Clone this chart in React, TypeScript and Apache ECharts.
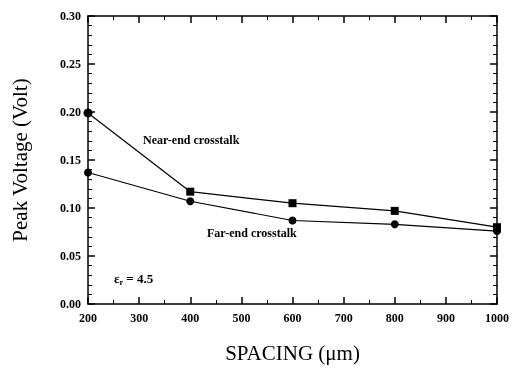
import React, { useEffect, useRef } from "react";
import * as echarts from "echarts";

const spacing = [200, 400, 600, 800, 1000];
const nearEnd = [0.199, 0.117, 0.105, 0.097, 0.080];
const farEnd = [0.137, 0.107, 0.087, 0.083, 0.076];
const xTicks = [200, 300, 400, 500, 600, 700, 800, 900, 1000];
const yTicks = [0.0, 0.05, 0.1, 0.15, 0.2, 0.25, 0.3];

const FONT = "Liberation Serif";

export default function App() {
  const ref = useRef<HTMLDivElement>(null);
  useEffect(() => {
    if (!ref.current) return;
    const chart = echarts.init(ref.current, null, { renderer: "svg" });
    const xBase = () => ({
      type: "value",
      min: xTicks[0],
      max: xTicks[xTicks.length - 1],
      interval: 100,
      splitLine: { show: false },
      axisLine: { show: true, onZero: false, lineStyle: { color: "#000", width: 1.5 } },
      axisTick: { show: true, inside: true, length: 7, lineStyle: { color: "#000", width: 1.5 } },
      minorTick: { show: true, splitNumber: 2, length: 4, lineStyle: { color: "#000", width: 1 } },
    });
    const yBase = () => ({
      type: "value",
      min: yTicks[0],
      max: yTicks[yTicks.length - 1],
      interval: 0.05,
      splitLine: { show: false },
      axisLine: { show: true, onZero: false, lineStyle: { color: "#000", width: 1.5 } },
      axisTick: { show: true, inside: true, length: 7, lineStyle: { color: "#000", width: 1.5 } },
      minorTick: { show: true, splitNumber: 5, length: 4, lineStyle: { color: "#000", width: 1 } },
    });
    chart.setOption({
      animation: false,
      grid: { left: 88, right: 15, top: 16, bottom: 66 },
      xAxis: [
        {
          ...xBase(),
          position: "bottom",
          name: "SPACING (\u03bcm)",
          nameLocation: "middle",
          nameGap: 38,
          nameTextStyle: { fontFamily: FONT, fontSize: 21, color: "#000" },
          axisLabel: {
            fontFamily: FONT,
            fontSize: 12,
            fontWeight: "bold",
            color: "#000",
            margin: 8,
            formatter: (v: number) => String(v),
          },
        },
        { ...xBase(), position: "top", axisLabel: { show: false } },
      ],
      yAxis: [
        {
          ...yBase(),
          position: "left",
          name: "Peak Voltage (Volt)",
          nameLocation: "middle",
          nameGap: 58,
          nameTextStyle: { fontFamily: FONT, fontSize: 21, color: "#000" },
          axisLabel: {
            fontFamily: FONT,
            fontSize: 12,
            fontWeight: "bold",
            color: "#000",
            margin: 7,
            formatter: (v: number) => v.toFixed(2),
          },
        },
        { ...yBase(), position: "right", axisLabel: { show: false } },
      ],
      series: [
        {
          name: "Near-end crosstalk",
          type: "line",
          data: spacing.map((x, i) =>
            i === 0
              ? { value: [x, nearEnd[i]], symbol: "circle", symbolSize: 9 }
              : { value: [x, nearEnd[i]] }
          ),
          symbol: "rect",
          symbolSize: 8,
          itemStyle: { color: "#000" },
          lineStyle: { color: "#000", width: 1.2 },
        },
        {
          name: "Far-end crosstalk",
          type: "line",
          data: spacing.map((x, i) => [x, farEnd[i]]),
          symbol: "circle",
          symbolSize: 8,
          itemStyle: { color: "#000" },
          lineStyle: { color: "#000", width: 1.2 },
        },
      ],
      graphic: [
        { type: "text", x: 143, y: 134, style: { text: "Near-end crosstalk", font: `bold 12px "${FONT}"`, fill: "#000" } },
        { type: "text", x: 207, y: 227, style: { text: "Far-end crosstalk", font: `bold 12px "${FONT}"`, fill: "#000" } },
        {
          type: "text",
          x: 114,
          y: 270,
          style: {
            text: "{e|\u03b5}{s|r}{e| = 4.5}",
            rich: {
              e: { fontFamily: FONT, fontSize: 13, fontWeight: "bold", fill: "#000" },
              s: { fontFamily: FONT, fontSize: 8, fontWeight: "bold", fill: "#000", padding: [8, 0, 0, 0] },
            },
          },
        },
      ],
    });
    return () => chart.dispose();
  }, []);
  return <div ref={ref} style={{ position: "fixed", left: 0, top: 0, width: 512, height: 370 }} />;
}
